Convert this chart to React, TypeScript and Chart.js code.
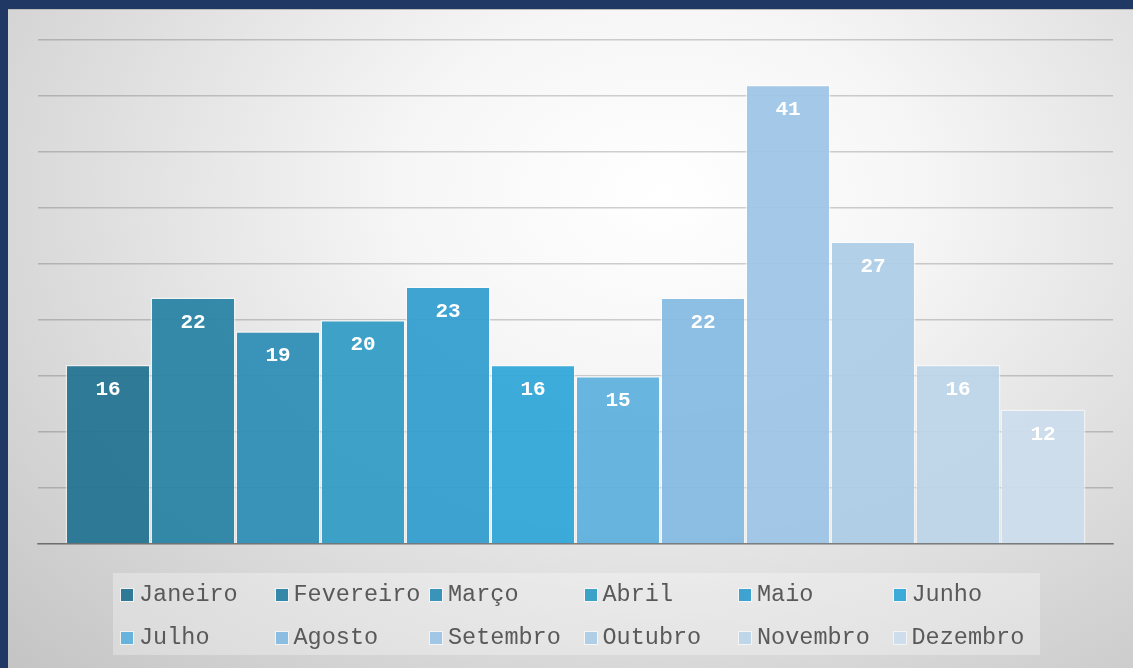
import React, { useEffect, useRef } from "react";
import { Chart, registerables } from "chart.js";

Chart.register(...registerables);

const months = [
  "Janeiro", "Fevereiro", "Março", "Abril", "Maio", "Junho",
  "Julho", "Agosto", "Setembro", "Outubro", "Novembro", "Dezembro",
];
const values = [16, 22, 19, 20, 23, 16, 15, 22, 41, 27, 16, 12];
const colors = [
  "rgba(33,114,145,0.93)", "rgba(39,130,165,0.93)", "rgba(44,141,182,0.93)",
  "rgba(47,155,197,0.93)", "rgba(49,157,208,0.93)", "rgba(47,166,216,0.93)",
  "rgba(93,175,222,0.93)", "rgba(131,186,225,0.93)", "rgba(157,197,230,0.93)",
  "rgba(172,205,230,0.93)", "rgba(188,213,234,0.93)", "rgba(203,221,236,0.93)",
];
const yTicks = { min: 0, max: 45, step: 5 };

const MONO = "'Liberation Mono', 'DejaVu Sans Mono', monospace";

const labelPlugin = {
  id: "barLabels",
  afterDatasetsDraw(chart: any) {
    const ctx = chart.ctx;
    ctx.save();
    ctx.fillStyle = "#ffffff";
    ctx.font = `bold 21px ${MONO}`;
    ctx.textAlign = "center";
    ctx.textBaseline = "middle";
    chart.data.datasets.forEach((ds: any, i: number) => {
      const meta = chart.getDatasetMeta(i);
      meta.data.forEach((bar: any, j: number) => {
        ctx.fillText(String(ds.data[j]), bar.x, bar.y + 25);
      });
    });
    ctx.restore();
  },
};

export default function App() {
  const ref = useRef<HTMLCanvasElement>(null);

  useEffect(() => {
    document.body.style.margin = "0";
    const chart = new Chart(ref.current!, {
      type: "bar",
      data: {
        labels: [""],
        datasets: months.map((m, i) => ({
          label: m,
          data: [values[i]],
          backgroundColor: colors[i],
          borderColor: "rgba(255,255,255,0.55)",
          borderWidth: 1.5,
          categoryPercentage: 0.9488,
          barPercentage: 1,
        })),
      },
      options: {
        animation: false,
        responsive: true,
        maintainAspectRatio: false,
        layout: { padding: { left: 30, right: 20, top: 31, bottom: 124 } },
        plugins: { legend: { display: false }, tooltip: { enabled: false } },
        scales: {
          x: {
            ticks: { display: false },
            grid: { display: false, drawTicks: false },
            border: { display: true, color: "rgba(0,0,0,0.35)", width: 1.5 },
          },
          y: {
            min: yTicks.min,
            max: yTicks.max,
            ticks: { display: false, stepSize: yTicks.step },
            grid: { color: "rgba(0,0,0,0.18)", lineWidth: 1.5, drawTicks: false },
            border: { display: false },
          },
        },
      },
      plugins: [labelPlugin],
    });
    return () => chart.destroy();
  }, []);

  return (
    <div style={{ position: "fixed", inset: 0, background: "#203864" }}>
      <div
        style={{
          position: "absolute",
          left: 8,
          top: 9,
          width: 1125,
          height: 659,
          borderTop: "1px solid #bcbcbc",
          boxSizing: "border-box",
          background:
            "radial-gradient(ellipse at 58% 28%, #ffffff 0%, #f6f6f6 28%, #dedede 62%, #c4c4c4 100%)",
        }}
      >
        <div style={{ position: "absolute", left: 0, top: -1, width: 1125, height: 659 }}>
          <canvas ref={ref} />
        </div>
        <div
          style={{
            position: "absolute",
            left: 105,
            top: 563,
            width: 927,
            height: 82,
            background: "rgba(255,255,255,0.3)",
            display: "grid",
            gridTemplateColumns: "repeat(6, 154.5px)",
            gridTemplateRows: "43px 39px",
            fontFamily: MONO,
            fontSize: "23.5px",
            color: "#595959",
          }}
        >
          {months.map((m, i) => (
            <div
              key={m}
              style={{
                display: "flex",
                alignItems: "center",
                paddingLeft: 8,
                height: 43,
                whiteSpace: "nowrap",
              }}
            >
              <span
                style={{
                  display: "inline-block",
                  width: 12,
                  height: 12,
                  background: colors[i],
                  boxShadow: "0 0 0 1px rgba(255,255,255,0.6)",
                  marginRight: 6,
                  flex: "none",
                }}
              />
              <span style={{ lineHeight: "24px" }}>{m}</span>
            </div>
          ))}
        </div>
      </div>
    </div>
  );
}
